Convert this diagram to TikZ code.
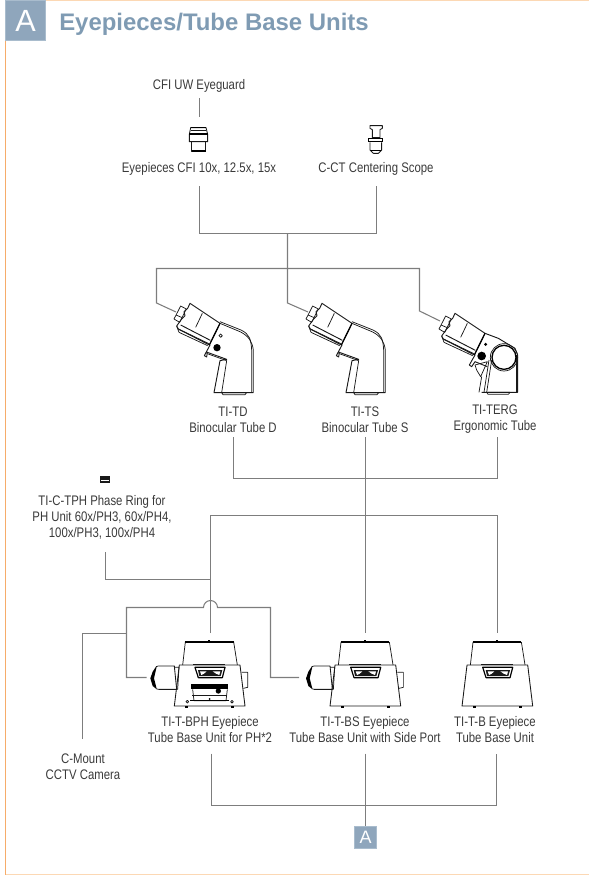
\documentclass[tikz,border=0pt]{standalone}
\usepackage{fontspec}
\setmainfont{Liberation Sans}
\newfontfamily\narrowfont{Liberation Sans}[FakeStretch=0.82]
\definecolor{ttl}{HTML}{7F9BB3}
\definecolor{boxb}{HTML}{8FA6BC}
\definecolor{boxe}{HTML}{A9BCCD}
\definecolor{conn}{HTML}{7D7D7D}
\definecolor{lbl}{HTML}{3A3A3A}
\definecolor{frameL}{HTML}{F6AC6A}
\definecolor{frameT}{HTML}{FCD8B4}
\tikzset{
  conline/.style={draw=conn,line width=0.8pt},
  lab/.style={font=\narrowfont\fontsize{10.4pt}{12pt}\selectfont,text=lbl,align=center,inner sep=0pt},
  ink/.style={draw=black!90,line width=0.55pt,line join=round},
  inkb/.style={draw=black,line width=0.9pt,line join=round},
  solidk/.style={fill=black!90,draw=none},
}
\newcommand{\tubehead}{%
  \draw[ink] (27,72)--(47,33)--(64,42)--(44,82)--cycle;
  \draw[ink] (33,60)--(52,68);
  \draw[ink,line width=0.7pt] (75,25)--(165,85)--(133,150)--(40,102)--(35,93)--(50,72)--(60,62)--(57,50)--(68,40)--cycle;
  \draw[ink] (112,55)--(92,97);
  \draw[ink,line width=0.7pt] (47,90)--(136,136);
  \draw[ink,line width=0.7pt] (40,102)--(131,146);
  \draw[ink] (42,112)--(128,152);
  \draw[ink] (35,93)--(42,112);
  \draw[inkb] (165,85)--(133,150);
}
\newcommand{\binbody}{%
  \draw[ink,line width=0.7pt] (135,150)--(118,182)--(125,186)--(127,172)--(185,193)--(165,197)--(147,293)--(265,293);
  \draw[ink] (165,85)--(225,110) .. controls (250,122) and (262,140) .. (265,165)--(265,293);
  \draw[ink] (165,80)--(228,105) .. controls (255,118) and (258,135) .. (260,165)--(260,293);
  \draw[ink] (127,176)--(185,197);
  \draw[ink] (185,197)--(170,293);
  \draw[ink] (170,293)--(245,293)--(240,299)--(174,299)--cycle;
}
\newcommand{\baseunit}{%
  \draw[ink] (128,105)--(136,36);
  \draw[ink] (281,36)--(292,105);
  \draw[inkb] (136,36)--(281,36);
  \fill[black] (205,31) rectangle (211,36);
  \draw[ink,line width=0.65pt] (118,105)--(300,105)--(315,228)--(103,228)--cycle;
  \draw[ink,line width=0.8pt] (160,103)--(255,103);
  \draw[inkb] (165,112)--(255,112)--(247,143)--(175,143)--cycle;
  \draw[solidk] (174,120)--(247,120)--(242,138)--(178,138)--cycle;
  \fill[white] (180,124)--(200,124)--(192,131)--(184,135)--cycle;
  \fill[white] (218,124)--(241,124)--(238,135)--(228,131)--cycle;
  \fill[black] (136,227) rectangle (145,234);
  \fill[black] (273,227) rectangle (282,234);
}
\newcommand{\sideport}{%
  \draw[ink,line width=0.65pt] (55,108)--(103,108)--(110,178)--(55,178);
  \draw[ink] (55,108)--(48,110);
  \draw[ink] (55,178)--(48,176);
  \fill[black] (48,110)--(38,125)--(31,145)--(38,168)--(48,176)--(50,176)--(42,145)--(50,110)--cycle;
  \draw[ink] (103,112)--(117,112)--(113,178)--(110,178);
  \draw[ink] (305,127)--(323,127)--(323,172)--(310,175);
}
\begin{document}
\begin{tikzpicture}[x=0.75pt,y=-0.75pt]
\useasboundingbox (0,0) rectangle (589,875);
% page frame
\fill[frameT] (5,0) rectangle (589,1.2);
\fill[frameT] (5,873.8) rectangle (589,875);
\fill[frameL] (4.6,0) rectangle (6,875);
% title
\node[fill=boxb,draw=boxe,line width=0.8pt,minimum size=29.5pt,inner sep=0pt,text=white,font=\fontsize{23pt}{23pt}\selectfont] (boxA) at (25.5,20.5) {A};
\node[anchor=base west,inner sep=0pt,text=ttl,font=\bfseries\fontsize{17.95pt}{20pt}\selectfont] (title) at (59,30.5) {Eyepieces/Tube Base Units};
% labels
\node[lab] (guard) at (199,86) {CFI UW Eyeguard};
\node[lab] (eyep) at (199,169) {Eyepieces CFI 10x, 12.5x, 15x};
\node[lab] (cct) at (376,169) {C-CT Centering Scope};
\node[lab] (td) at (233,419.5) {TI-TD\\Binocular Tube D};
\node[lab] (ts) at (365,419.5) {TI-TS\\Binocular Tube S};
\node[lab] (terg) at (495,419.5) {TI-TERG\\Ergonomic Tube};
\node[lab] (phase) at (102,517) {TI-C-TPH Phase Ring for\\PH Unit 60x/PH3, 60x/PH4,\\100x/PH3, 100x/PH4};
\node[lab] (bph) at (210,729.5) {TI-T-BPH Eyepiece\\Tube Base Unit for PH*2};
\node[lab] (bs) at (365,729.5) {TI-T-BS Eyepiece\\Tube Base Unit with Side Port};
\node[lab] (tb) at (495,729.5) {TI-T-B Eyepiece\\Tube Base Unit};
\node[lab] (cam) at (83,767) {C-Mount\\CCTV Camera};
\node[fill=boxb,draw=boxe,line width=0.6pt,minimum size=16.5pt,inner sep=0pt,text=white,font=\fontsize{13.5pt}{13.5pt}\selectfont] (boxB) at (365.5,837) {A};
% named coordinates
\coordinate (guardB) at (199.5,98);
\coordinate (eyepT) at (199.5,117);
\coordinate (eyepB) at (199.5,186);
\coordinate (cctB) at (376.5,186);
\coordinate (upJ) at (287.5,233.5);
\coordinate (tdIn) at (176,312);
\coordinate (tsIn) at (308,312);
\coordinate (tergIn) at (440,321);
\coordinate (tdB) at (233.5,437);
\coordinate (tsB) at (365.5,437);
\coordinate (tergB) at (497.5,437);
\coordinate (bsT) at (365.5,633);
\coordinate (bphT) at (210.5,633);
\coordinate (tbT) at (497.5,633);
\coordinate (phB) at (105.5,552);
\coordinate (bphL) at (146.7,677.5);
\coordinate (bsL) at (299,677.5);
\coordinate (camT) at (82.5,739);
\coordinate (bphB) at (211.5,753.7);
\coordinate (bsB) at (365.5,753.7);
\coordinate (tbB) at (496.5,753.7);
% connectors, top part
\draw[conline] (guardB)--(eyepT);
\draw[conline] (eyepB)--(199.5,233.5)--(376.5,233.5)--(cctB);
\draw[conline] (upJ)--(287.5,303)--(tsIn);
\draw[conline] (tdIn)--(156.5,303)--(156.5,268.5)--(419.5,268.5)--(419.5,311)--(tergIn);
\draw[conline] (tdB)--(233.5,478.5)--(497.5,478.5)--(tergB);
\draw[conline] (tsB)--(bsT);
% lower part
\draw[conline] (bphT)--(210.5,515.5)--(497.5,515.5)--(tbT);
\draw[conline] (phB)--(105.5,579.5)--(210.5,579.5);
\draw[conline] (bphL)--(126.5,677.5)--(126.5,607.5)--(203.5,607.5) arc[start angle=180,end angle=360,radius=7] --(270.5,607.5)--(270.5,677.5)--(bsL);
\draw[conline] (camT)--(82.5,633.5)--(126.5,633.5);
\draw[conline] (bphB)--(211.5,805.5)--(496.5,805.5)--(tbB);
\draw[conline] (bsB)--(boxB.north);
% phase ring icon
\fill[black!90] (100,476) rectangle (110,483);
\fill[white] (101,480) rectangle (109,481.3);
% eyepiece icon
\begin{scope}[shift={(170,115)},x=0.25pt,y=-0.25pt]
  \draw[ink,line width=0.65pt] (62,38)--(108,38)--(113,58)--(113,80)--(58,80)--(58,58)--cycle;
  \draw[inkb] (62,38)--(108,38);
  \draw[ink] (62,45)--(108,45);
  \draw[inkb] (58,57)--(113,57);
  \draw[ink,line width=0.65pt] (65,80)--(65,108)--(107,108)--(107,80);
  \draw[inkb] (65,108)--(107,108);
  % centering scope icon
  \draw[ink,line width=0.65pt] (600,32)--(637,32)--(637,40)--(630,44)--(630,68)--(607,68)--(607,44)--(600,40)--cycle;
  \fill[black] (595,68) rectangle (640,82);
  \fill[white] (598,72) rectangle (637,78);
  \draw[ink,line width=0.65pt] (600,82)--(600,105)--(610,115)--(625,115)--(635,105)--(635,82);
  \draw[inkb] (602,106)--(633,106);
\end{scope}
% TD
\begin{scope}[shift={(165,295)},x=0.25pt,y=-0.25pt]
  \tubehead
  \binbody
  \draw[ink] (167,122) circle[radius=5];
  \fill[black] (156,158) circle[radius=11];
\end{scope}
% TS
\begin{scope}[shift={(297,295)},x=0.25pt,y=-0.25pt]
  \tubehead
  \binbody
\end{scope}
% TERG
\begin{scope}[shift={(430,305)},x=0.25pt,y=-0.25pt]
  \tubehead
  \draw[ink,line width=0.7pt] (135,150)--(118,180)--(125,185)--(135,170)--(172,185);
  \draw[ink,line width=0.7pt] (165,85)--(205,100)--(255,130)--(263,150)--(263,262)--(155,262);
  \draw[ink] (258,150)--(258,262);
  \draw[ink] (135,180)--(172,170)--(152,215)--(140,195)--cycle;
  \draw[ink] (155,215)--(147,262);
  \draw[ink] (177,165)--(162,262);
  \draw[ink] (185,165)--(170,262);
  \draw[ink] (170,262)--(240,262)--(235,268)--(174,268)--cycle;
  \draw[black,line width=1pt,fill=white] (222,157) circle[radius=36];
  \draw[ink] (222,157) circle[radius=41];
  \fill[black] (155,153) circle[radius=13];
  \fill[black] (167,118) circle[radius=5];
\end{scope}
% base units
\begin{scope}[shift={(140,630)},x=0.25pt,y=-0.25pt]
  \baseunit
  \sideport
  \fill[black] (153,162) rectangle (265,178);
  \fill[black] (235,183) circle[radius=8];
  \draw[ink] (158,178)--(162,212)--(258,212)--(262,178);
  \draw[ink] (157,195)--(262,195);
  \draw[inkb] (150,212)--(268,212);
  \fill[black] (209,207) circle[radius=3];
  \draw[ink] (142,215) circle[radius=4];
  \draw[ink] (276,215) circle[radius=4];
\end{scope}
\begin{scope}[shift={(295.7,630)},x=0.25pt,y=-0.25pt]
  \baseunit
  \sideport
\end{scope}
\begin{scope}[shift={(427.7,630)},x=0.25pt,y=-0.25pt]
  \baseunit
\end{scope}
\end{tikzpicture}
\end{document}
